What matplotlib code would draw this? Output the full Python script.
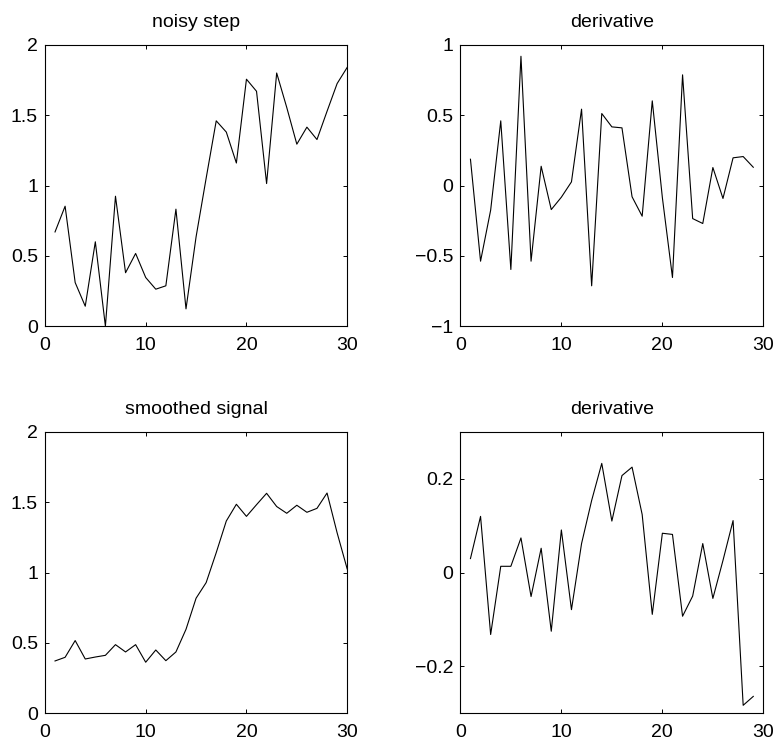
import numpy as np
import matplotlib
matplotlib.use('Agg')
import matplotlib.pyplot as plt
from matplotlib.ticker import FuncFormatter


# ── Data ──────────────────────────────────────────────────────────────────────

x_signal = np.arange(1, 31)
x_deriv = np.arange(1, 30)

noisy_step = [0.67, 0.853, 0.31, 0.142, 0.60, 0.0, 0.924, 0.38, 0.517, 0.346,
              0.263, 0.287, 0.832, 0.123, 0.635, 1.052, 1.46, 1.38, 1.16, 1.756,
              1.67, 1.014, 1.80, 1.555, 1.294, 1.415, 1.327, 1.528, 1.725, 1.84]

noisy_deriv = [0.187, -0.538, -0.175, 0.46, -0.597, 0.919, -0.538, 0.137, -0.171,
               -0.083, 0.026, 0.543, -0.713, 0.512, 0.417, 0.41, -0.08, -0.218,
               0.602, -0.086, -0.654, 0.787, -0.235, -0.27, 0.128, -0.092, 0.197,
               0.206, 0.13]

smoothed = [0.372, 0.398, 0.517, 0.386, 0.40, 0.412, 0.488, 0.436, 0.488, 0.363,
            0.45, 0.374, 0.436, 0.597, 0.818, 0.929, 1.142, 1.367, 1.486, 1.40,
            1.483, 1.564, 1.47, 1.422, 1.479, 1.429, 1.457, 1.566, 1.283, 1.026]

smoothed_deriv = [0.03, 0.12, -0.132, 0.0135, 0.0135, 0.074, -0.051, 0.052, -0.125,
                  0.091, -0.079, 0.062, 0.154, 0.233, 0.11, 0.207, 0.225, 0.124,
                  -0.089, 0.084, 0.0815, -0.093, -0.05, 0.062, -0.055, 0.026,
                  0.111, -0.283, -0.264]

x_ticks = [0, 10, 20, 30]


def fmt(v, pos):
    return ('%g' % v).replace('-', '\u2212')


plt.rcParams['font.family'] = ['Liberation Sans', 'DejaVu Sans']
plt.rcParams['font.size'] = 14

fig = plt.figure(figsize=(7.75, 7.43), dpi=100)

panels = [
    # (rect, x, y, title, ylim, yticks)
    ([0.058, 0.561, 0.39, 0.3786], x_signal, noisy_step, "noisy step",
     (0, 2), [0, 0.5, 1, 1.5, 2]),
    ([0.594, 0.561, 0.391, 0.3786], x_deriv, noisy_deriv, "derivative",
     (-1, 1), [-1, -0.5, 0, 0.5, 1]),
    ([0.058, 0.04, 0.39, 0.3786], x_signal, smoothed, "smoothed signal",
     (0, 2), [0, 0.5, 1, 1.5, 2]),
    ([0.594, 0.04, 0.391, 0.3786], x_deriv, smoothed_deriv, "derivative",
     (-0.3, 0.3), [-0.2, 0, 0.2]),
]

for rect, xs, ys, title, ylim, yticks in panels:
    ax = fig.add_axes(rect)
    ax.plot(xs, ys, color='black', linewidth=0.8)
    ax.set_xlim(0, 30)
    ax.set_ylim(*ylim)
    ax.set_xticks(x_ticks)
    ax.set_yticks(yticks)
    ax.xaxis.set_major_formatter(FuncFormatter(fmt))
    ax.yaxis.set_major_formatter(FuncFormatter(fmt))
    ax.tick_params(direction='in', length=3, width=0.7, top=True, right=True,
                   labelsize=14)
    ax.tick_params(axis='x', pad=8)
    ax.tick_params(axis='y', pad=5)
    for s in ax.spines.values():
        s.set_linewidth(0.8)
    ax.set_title(title, fontsize=14, pad=13)

fig.savefig("out.png", dpi=100)
